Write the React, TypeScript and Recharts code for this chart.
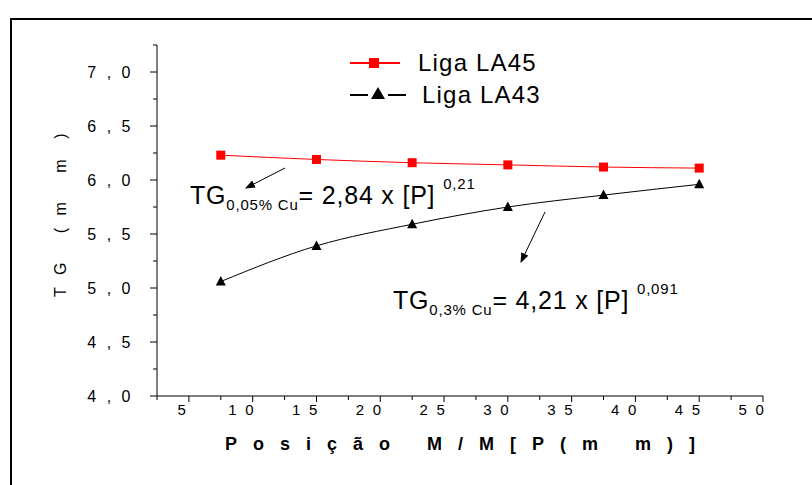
import { LineChart, Line, XAxis, YAxis } from 'recharts';

// Posição M/M (mm)
const positions = [7.5, 15, 22.5, 30, 37.5, 45];
// TG (mm) per alloy
const la45 = [6.23, 6.19, 6.16, 6.14, 6.12, 6.11];
const la43 = [5.06, 5.39, 5.59, 5.75, 5.86, 5.96];

const xTicks = [2.5, 5, 7.5, 10, 12.5, 15, 17.5, 20, 22.5, 25, 27.5, 30, 32.5, 35, 37.5, 40, 42.5, 45, 47.5, 50];
const yTicks = [4, 4.25, 4.5, 4.75, 5, 5.25, 5.5, 5.75, 6, 6.25, 6.5, 6.75, 7, 7.25];

const data = positions.map((p, i) => ({ p, la45: la45[i], la43: la43[i] }));

const font = 'Liberation Sans, Arial, sans-serif';

const spaced = (s: string) => s.split('').join(' ');

// major ticks carry a label and a longer tick mark
const XTick = ({ x, y, payload }: any) => {
  const v = payload.value;
  const major = v % 5 === 0;
  const s = String(v);
  return (
    <g>
      <line x1={x} y1={y} x2={x} y2={y + (major ? 6 : 4)} stroke="#000" />
      {major && (
        <text x={x - (s.length > 1 ? 24.5 : 11.5)} y={y + 8} dy="0.71em" fontSize={15} fontFamily={font} fill="#000" letterSpacing={2.25} style={{ whiteSpace: 'pre' }}>
          {spaced(s)}
        </text>
      )}
    </g>
  );
};

const YTick = ({ x, y, payload }: any) => {
  const v = payload.value;
  const major = Math.round(v * 100) % 50 === 0;
  const label = v.toFixed(1).replace('.', ' , ');
  return (
    <g>
      <line x1={x} y1={y} x2={x - (major ? 7 : 4)} y2={y} stroke="#000" />
      {major && (
        <text x={133.5} y={y} dy="0.36em" textAnchor="end" fontSize={16} fontFamily={font} fill="#000" letterSpacing={3} style={{ whiteSpace: 'pre' }}>
          {label}
        </text>
      )}
    </g>
  );
};

const Square = ({ cx, cy }: any) => <rect x={cx - 4.5} y={cy - 4.5} width={9} height={9} fill="#ff0000" />;
const Triangle = ({ cx, cy }: any) => (
  <polygon points={`${cx},${cy - 5.5} ${cx - 5},${cy + 4} ${cx + 5},${cy + 4}`} fill="#000" />
);

export default function App() {
  return (
    <div style={{ position: 'absolute', left: 0, top: 0, width: 812, height: 485, overflow: 'hidden', background: '#fff' }}>
      <div style={{ position: 'absolute', left: 10, top: 18, width: 820, height: 500, borderLeft: '2px solid #000', borderTop: '2px solid #000' }} />
      <LineChart width={812} height={485} data={data} margin={{ top: 45, right: 49, bottom: 0, left: 0 }}>
        <XAxis
          dataKey="p"
          type="number"
          domain={[2.5, 50]}
          ticks={xTicks}
          interval={0}
          tick={<XTick />}
          tickLine={false}
          tickSize={0}
          tickMargin={0}
          height={89}
          stroke="#000"
          allowDataOverflow
        />
        <YAxis
          type="number"
          domain={[4, 7.25]}
          ticks={yTicks}
          interval={0}
          tick={<YTick />}
          tickLine={false}
          tickSize={0}
          tickMargin={0}
          width={157}
          stroke="#000"
          allowDataOverflow
        />
        <Line type="monotone" dataKey="la45" name="Liga LA45" stroke="#ff0000" strokeWidth={1} dot={<Square />} activeDot={false} isAnimationActive={false} />
        <Line type="monotone" dataKey="la43" name="Liga LA43" stroke="#000" strokeWidth={1} dot={<Triangle />} activeDot={false} isAnimationActive={false} />
      </LineChart>
      <svg width={812} height={485} style={{ position: 'absolute', left: 0, top: 0, pointerEvents: 'none', fontFamily: font }}>
        <defs>
          <marker id="arr" markerWidth="10" markerHeight="8" refX="9" refY="4" orient="auto">
            <path d="M0,0 L10,4 L0,8 Z" fill="#000" />
          </marker>
        </defs>
        {/* legend */}
        <line x1={350} y1={63} x2={400} y2={63} stroke="#ff0000" strokeWidth={2} />
        <rect x={369} y={58} width={10} height={10} fill="#ff0000" />
        <text x={418} y={71} fontSize={24} letterSpacing={1.2} fill="#000">Liga LA45</text>
        <line x1={350} y1={95} x2={368} y2={95} stroke="#000" strokeWidth={2} />
        <line x1={388} y1={95} x2={406} y2={95} stroke="#000" strokeWidth={2} />
        <polygon points="378,87 371,99 385,99" fill="#000" />
        <text x={422} y={103} fontSize={24} letterSpacing={1.2} fill="#000">Liga LA43</text>
        {/* axis titles */}
        <text x={60} y={297} transform="rotate(-90 60 297)" dominantBaseline="central" fontSize={16} fill="#000" style={{ whiteSpace: 'pre' }} letterSpacing={4}>
          {'T G   ( m   m  )'}
        </text>
        <text x={225} y={450} fontSize={18} fontWeight="bold" fill="#000" letterSpacing={16} style={{ whiteSpace: 'pre' }}>
          {'Posição M/M[P(m m)]'}
        </text>
        {/* fitted equations */}
        <line x1={285} y1={168} x2={246} y2={188} stroke="#000" strokeWidth={1} markerEnd="url(#arr)" />
        <line x1={545} y1={212} x2={521} y2={262} stroke="#000" strokeWidth={1} markerEnd="url(#arr)" />
        <text x={190} y={204} fontSize={25} letterSpacing={0.8} fill="#000">
          TG<tspan fontSize={15} dy={6}>0,05% Cu</tspan><tspan dy={-6}>= 2,84 x [P] </tspan><tspan fontSize={15} dy={-15}>0,21</tspan>
        </text>
        <text x={393} y={309} fontSize={25} letterSpacing={0.8} fill="#000">
          TG<tspan fontSize={15} dy={6}>0,3% Cu</tspan><tspan dy={-6}>= 4,21 x [P] </tspan><tspan fontSize={15} dy={-15}>0,091</tspan>
        </text>
      </svg>
    </div>
  );
}
